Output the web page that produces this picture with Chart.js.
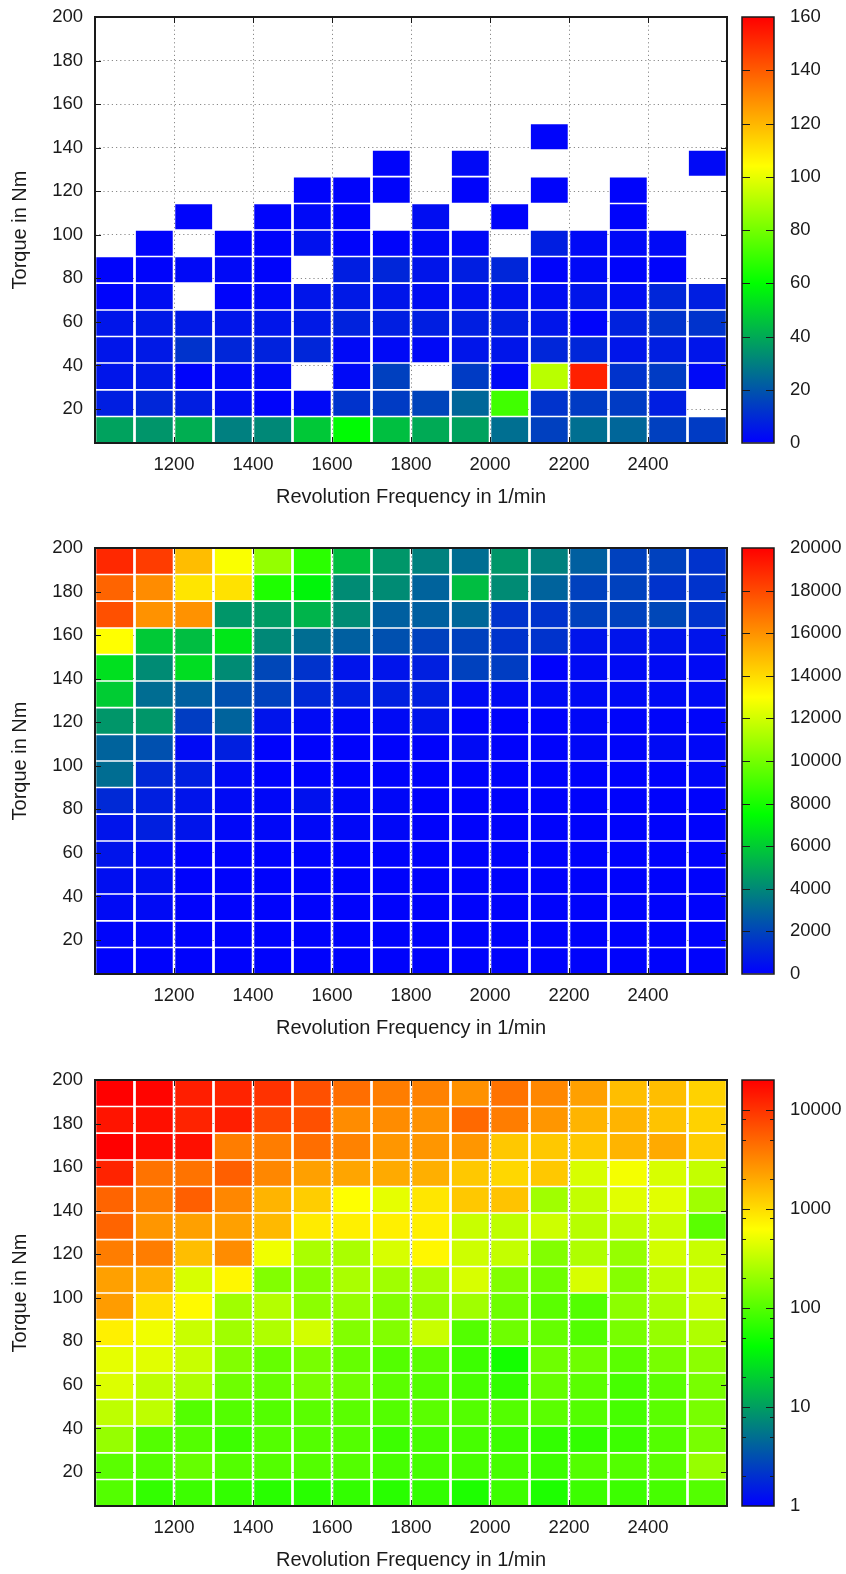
<!DOCTYPE html>
<html>
<head>
<meta charset="utf-8">
<script src="https://cdn.jsdelivr.net/npm/chart.js@4.4.1/dist/chart.umd.min.js"></script>
<style>
  html, body { margin: 0; padding: 0; background: #fff; overflow: hidden; }
  body { width: 846px; height: 1574px; position: relative; }
  .panel { position: absolute; left: 0; width: 846px; height: 531px; }
  .panel canvas { position: absolute; top: 0; }
</style>
</head>
<body>
<div class="panel" style="top:0px">
  <canvas id="map0" width="730" height="531" style="left:0px"></canvas>
  <canvas id="bar0" width="111" height="531" style="left:735px"></canvas>
</div>
<div class="panel" style="top:531px">
  <canvas id="map1" width="730" height="531" style="left:0px"></canvas>
  <canvas id="bar1" width="111" height="531" style="left:735px"></canvas>
</div>
<div class="panel" style="top:1063px">
  <canvas id="map2" width="730" height="531" style="left:0px"></canvas>
  <canvas id="bar2" width="111" height="531" style="left:735px"></canvas>
</div>
<script>
// bin edges of the maps
const REV_EDGES = [1000, 1100, 1200, 1300, 1400, 1500, 1600, 1700, 1800, 1900, 2000, 2100, 2200, 2300, 2400, 2500, 2600];
const TORQUE_EDGES = [4.4, 16.6, 28.8, 41.1, 53.3, 65.5, 77.8, 90.0, 102.2, 114.4, 126.7, 138.9, 151.1, 163.3, 175.6, 187.8, 200];

const X_TICKS = [1200, 1400, 1600, 1800, 2000, 2200, 2400];
const Y_TICKS = [20, 40, 60, 80, 100, 120, 140, 160, 180, 200];
const X_TITLE = "Revolution Frequency in 1/min";
const Y_TITLE = "Torque in Nm";

// colour bar ticks
const CB_TOP_TICKS = [0, 20, 40, 60, 80, 100, 120, 140, 160];
const CB_MID_TICKS = [0, 2000, 4000, 6000, 8000, 10000, 12000, 14000, 16000, 18000, 20000];
const CB_LOW_TICKS = [1, 10, 100, 1000, 10000];
const CB_LOW_MINOR = [2, 5, 8, 20, 50, 80, 200, 500, 800, 2000, 5000, 8000];

// rows listed from the top (187.8-200 Nm) down to the bottom row; columns 1000..2600 1/min
const _ = null;
const TOP_MAP = [
  [_, _, _, _, _, _, _, _, _, _, _, _, _, _, _, _],
  [_, _, _, _, _, _, _, _, _, _, _, _, _, _, _, _],
  [_, _, _, _, _, _, _, _, _, _, _, _, _, _, _, _],
  [_, _, _, _, _, _, _, _, _, _, _, _, _, _, _, _],
  [_, _, _, _, _, _, _, _, _, _, _, 1, _, _, _, _],
  [_, _, _, _, _, _, _, 1, _, 2, _, _, _, _, _, 2],
  [_, _, _, _, _, 1, 1, 1, _, 1, _, 1, _, 1, _, _],
  [_, _, 1, _, 1, 2, 1, _, 3, _, 1, _, _, 1, _, _],
  [_, 1, _, 1, 1, 4, 1, 1, 2, 2, _, 7, 2, 2, 2, _],
  [1, 1, 2, 2, 1, _, 7, 9, 5, 7, 9, 1, 2, 1, 1, _],
  [1, 3, _, 1, 2, 5, 6, 5, 3, 4, 4, 3, 5, 3, 9, 7],
  [5, 6, 6, 5, 5, 6, 8, 7, 7, 7, 7, 5, 1, 8, 12, 12],
  [5, 6, 12, 9, 8, 9, 2, 2, 2, 5, 5, 9, 9, 5, 7, 5],
  [5, 6, 1, 2, 2, _, 2, 15, _, 14, 2, 92, 153, 12, 14, 2],
  [7, 9, 7, 3, 1, 2, 12, 14, 16, 24, 71, 12, 14, 14, 7, _],
  [38, 35, 41, 30, 32, 47, 59, 45, 40, 38, 26, 15, 26, 24, 15, 14]
];

const MID_MAP = [
  [18900, 18350, 14800, 12900, 10700, 8400, 5600, 4400, 3800, 3200, 4400, 3800, 2800, 1900, 1900, 1500],
  [17250, 16150, 13700, 13800, 8150, 7200, 4100, 4100, 2900, 5600, 4100, 2900, 1900, 1900, 1500, 1500],
  [17800, 16000, 16000, 4400, 4550, 5300, 4100, 2800, 2800, 3000, 1500, 1500, 1900, 1900, 2100, 1500],
  [13000, 5900, 5600, 6800, 4000, 3200, 2800, 2350, 1900, 1900, 1500, 1500, 600, 600, 600, 600],
  [6600, 4100, 6500, 4100, 2100, 1500, 600, 600, 900, 1900, 1800, 100, 300, 300, 300, 300],
  [6000, 3200, 2800, 2350, 1900, 1200, 900, 900, 900, 300, 300, 300, 300, 300, 300, 300],
  [4400, 4400, 1800, 2900, 600, 300, 200, 300, 600, 100, 100, 100, 200, 150, 150, 150],
  [2900, 2350, 300, 900, 100, 100, 100, 100, 100, 300, 100, 100, 200, 150, 300, 200],
  [3200, 1200, 900, 300, 100, 100, 100, 100, 100, 100, 100, 100, 100, 100, 100, 200],
  [1200, 900, 600, 300, 200, 500, 200, 200, 100, 100, 100, 100, 100, 100, 100, 100],
  [600, 900, 600, 200, 200, 200, 200, 200, 100, 100, 100, 100, 100, 100, 100, 100],
  [600, 300, 100, 100, 100, 100, 100, 100, 100, 100, 100, 100, 100, 100, 100, 100],
  [400, 400, 100, 100, 100, 100, 100, 100, 100, 100, 100, 100, 100, 100, 100, 100],
  [300, 300, 100, 100, 100, 100, 100, 100, 100, 100, 100, 100, 100, 100, 100, 100],
  [150, 150, 100, 100, 100, 100, 100, 100, 100, 100, 100, 100, 100, 100, 100, 100],
  [100, 100, 100, 100, 100, 100, 100, 100, 100, 100, 100, 100, 100, 100, 100, 100]
];

const LOW_MAP = [
  [20000, 19000, 13300, 12500, 10100, 6740, 4490, 3660, 3420, 2790, 4190, 3190, 2280, 1510, 1510, 1150],
  [15200, 16300, 12500, 13300, 7730, 6740, 2980, 2980, 2790, 4800, 3660, 2600, 1730, 1730, 1410, 1150],
  [20000, 17400, 16300, 3660, 3660, 4490, 3420, 2600, 2600, 2600, 1320, 1320, 1320, 1730, 1990, 1230],
  [12500, 4190, 4190, 5500, 3190, 2280, 2120, 1990, 1850, 1320, 1080, 1320, 407, 563, 407, 330],
  [5130, 3660, 5500, 3190, 1730, 1230, 620, 480, 880, 1320, 1410, 227, 330, 454, 454, 227],
  [5130, 2600, 2280, 2280, 1620, 820, 767, 767, 767, 347, 312, 366, 290, 312, 347, 107],
  [3660, 3660, 1510, 2980, 532, 252, 252, 407, 700, 366, 330, 164, 266, 204, 385, 347],
  [2280, 1850, 407, 700, 164, 172, 252, 227, 252, 407, 164, 133, 407, 172, 312, 347],
  [2400, 940, 670, 227, 281, 183, 204, 164, 193, 227, 133, 107, 100, 183, 252, 347],
  [767, 532, 347, 227, 266, 385, 164, 164, 347, 100, 133, 120, 100, 148, 204, 266],
  [480, 454, 347, 164, 120, 148, 120, 100, 107, 78, 51, 133, 133, 107, 148, 183],
  [430, 312, 266, 133, 120, 148, 133, 107, 100, 87, 70, 120, 107, 87, 107, 148],
  [312, 312, 100, 100, 100, 107, 107, 100, 107, 100, 100, 107, 100, 87, 107, 148],
  [204, 100, 100, 78, 100, 100, 100, 78, 87, 87, 78, 70, 70, 78, 100, 148],
  [107, 100, 120, 100, 100, 100, 100, 87, 87, 87, 87, 78, 100, 100, 107, 204],
  [100, 70, 78, 70, 63, 63, 70, 63, 70, 56, 78, 56, 78, 78, 87, 100]
];

// blue -> green -> yellow -> red
const PALETTE = [[0, [0, 0, 255]], [0.375, [0, 255, 0]], [0.65, [255, 255, 0]], [1, [255, 0, 0]]];

function paletteColor(f) {
  f = Math.max(0, Math.min(1, f));
  for (let i = 1; i < PALETTE.length; i++) {
    const [f1, c1] = PALETTE[i];
    const [f0, c0] = PALETTE[i - 1];
    if (f <= f1) {
      const t = (f - f0) / (f1 - f0);
      const c = c0.map((a, k) => Math.round(a + (c1[k] - a) * t));
      return `rgb(${c[0]},${c[1]},${c[2]})`;
    }
  }
  return "rgb(255,0,0)";
}

const linColor = (max) => (v) => paletteColor(v / max);
const logColor = (max) => (v) => paletteColor(Math.log10(v) / Math.log10(max));

Chart.defaults.font.family = "'Liberation Sans', Arial, sans-serif";
Chart.defaults.font.size = 18.5;
Chart.defaults.color = "#1a1a1a";

const TITLE_FONT = { size: 20 };

// frame and inward tick marks, gnuplot style
const frameAndTicks = {
  id: "frameAndTicks",
  afterDraw(chart, args, o) {
    const { ctx, chartArea: a } = chart;
    const xs = chart.scales.x, ys = chart.scales.y;
    ctx.save();
    ctx.strokeStyle = o.color;
    ctx.lineWidth = 1;
    ctx.beginPath();
    (o.x || []).forEach((v) => {
      const p = Math.round(xs.getPixelForValue(v)) + 0.5;
      ctx.moveTo(p, a.bottom); ctx.lineTo(p, a.bottom - o.len);
      ctx.moveTo(p, a.top); ctx.lineTo(p, a.top + o.len);
    });
    const yTick = (v, len) => {
      const p = Math.round(ys.getPixelForValue(v)) + 0.5;
      ctx.moveTo(a.left, p); ctx.lineTo(a.left + len, p);
      ctx.moveTo(a.right, p); ctx.lineTo(a.right - len, p);
    };
    (o.y || []).forEach((v) => yTick(v, o.len));
    (o.yMinor || []).forEach((v) => yTick(v, o.minorLen));
    ctx.stroke();
    ctx.lineWidth = o.frame;
    ctx.strokeRect(a.left, a.top, a.right - a.left, a.bottom - a.top);
    ctx.restore();
  }
};

const gridOpts = { color: "#8a8a8a", lineWidth: 1, drawTicks: false };
const borderOpts = { display: false, dash: [1.2, 3] };

function mapChart(id, rows, colorOf) {
  const cells = [];
  rows.forEach((row, j) => {
    const k = TORQUE_EDGES.length - 2 - j; // row j counted from the top
    row.forEach((v, c) => {
      if (v === null) return;
      cells.push({ x: (REV_EDGES[c] + REV_EDGES[c + 1]) / 2, y: [TORQUE_EDGES[k], TORQUE_EDGES[k + 1]], v });
    });
  });

  return new Chart(document.getElementById(id), {
    type: "bar",
    data: {
      datasets: [{
        data: cells,
        backgroundColor: (c) => (c.raw ? colorOf(c.raw.v) : "#fff"),
        borderColor: "#fff",
        borderWidth: { top: 0.8, bottom: 0.8, left: 0, right: 0 },
        borderSkipped: false,
        barPercentage: 0.942,
        categoryPercentage: 1,
        inflateAmount: 0
      }]
    },
    options: {
      responsive: false,
      animation: false,
      layout: { padding: { top: 17, right: 3, left: 0, bottom: 0 } },
      plugins: {
        legend: { display: false },
        tooltip: { enabled: false },
        frameAndTicks: { x: X_TICKS, y: Y_TICKS.slice(0, -1), len: 6, color: "#1a1a1a", frame: 2 }
      },
      scales: {
        x: {
          type: "linear",
          min: REV_EDGES[0],
          max: REV_EDGES[REV_EDGES.length - 1],
          offset: false,
          afterBuildTicks: (s) => { s.ticks = X_TICKS.map((value) => ({ value })); },
          afterFit: (s) => { s.height = 88; },
          grid: { ...gridOpts, offset: false },
          border: borderOpts,
          ticks: { padding: 11, maxRotation: 0, autoSkip: false, callback: (v) => String(v) },
          title: { display: true, text: X_TITLE, font: TITLE_FONT, padding: { top: 0, bottom: 22 } }
        },
        y: {
          type: "linear",
          min: TORQUE_EDGES[0],
          max: TORQUE_EDGES[TORQUE_EDGES.length - 1],
          beginAtZero: false,
          afterBuildTicks: (s) => { s.ticks = Y_TICKS.map((value) => ({ value })); },
          afterFit: (s) => { s.width = 95; },
          // invisible tick marks push the labels off the frame without adding top padding
          grid: { ...gridOpts, drawTicks: true, tickLength: 12, tickColor: "rgba(0,0,0,0)" },
          border: borderOpts,
          ticks: { padding: 0, autoSkip: false, callback: (v) => String(v) },
          title: { display: true, text: Y_TITLE, font: TITLE_FONT, padding: { top: 8, bottom: 0 } }
        }
      }
    },
    plugins: [frameAndTicks]
  });
}

function colorBar(id, type, ticks, minor) {
  const min = ticks[0];
  const max = type === "logarithmic" ? 20000 : ticks[ticks.length - 1];
  return new Chart(document.getElementById(id), {
    type: "bar",
    data: {
      labels: [""],
      datasets: [{
        data: [[min, max]],
        backgroundColor: (c) => {
          const a = c.chart.chartArea;
          if (!a) return "#00f";
          const g = c.chart.ctx.createLinearGradient(0, a.bottom, 0, a.top);
          PALETTE.forEach(([f, rgb]) => g.addColorStop(f, `rgb(${rgb.join(",")})`));
          return g;
        },
        borderWidth: 0,
        barPercentage: 1,
        categoryPercentage: 1,
        inflateAmount: 0
      }]
    },
    options: {
      responsive: false,
      animation: false,
      layout: { padding: { top: 17, bottom: 88, left: 7, right: 0 } },
      plugins: {
        legend: { display: false },
        tooltip: { enabled: false },
        frameAndTicks: {
          y: ticks.filter((v) => v > min && v < max),
          yMinor: minor,
          len: 8, minorLen: 4, color: "#1a1a1a", frame: 1.5
        }
      },
      scales: {
        x: { display: false },
        y: {
          type,
          position: "right",
          min,
          max,
          beginAtZero: false,
          afterBuildTicks: (s) => { s.ticks = ticks.map((value) => ({ value })); },
          afterFit: (s) => { s.width = 72; },
          grid: { display: true, drawOnChartArea: false, drawTicks: true, tickLength: 16, tickColor: "rgba(0,0,0,0)", color: "rgba(0,0,0,0)" },
          border: { display: false },
          ticks: { padding: 0, autoSkip: false, callback: (v) => String(v) }
        }
      }
    },
    plugins: [frameAndTicks]
  });
}

mapChart("map0", TOP_MAP, linColor(160));
colorBar("bar0", "linear", CB_TOP_TICKS, []);
mapChart("map1", MID_MAP, linColor(20000));
colorBar("bar1", "linear", CB_MID_TICKS, []);
mapChart("map2", LOW_MAP, logColor(20000));
colorBar("bar2", "logarithmic", CB_LOW_TICKS, CB_LOW_MINOR);
</script>
</body>
</html>
